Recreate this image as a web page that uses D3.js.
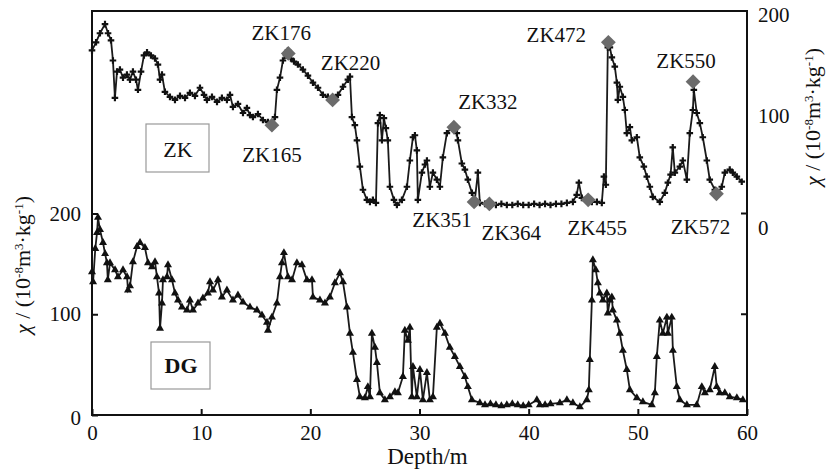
<!DOCTYPE html>
<html>
<head>
<meta charset="utf-8">
<script src="https://d3js.org/d3.v7.min.js"></script>
<style>
  body { margin: 0; background: #fff; }
  .line { fill: none; stroke: #1a1a1a; stroke-width: 1.8px; }
  .frame { fill: none; stroke: #111; stroke-width: 2px; }
</style>
</head>
<body>
<script>
// ZK core (top, right axis)
var zkDepth = [0, 0.37, 0.73, 1.19, 1.47, 1.74, 1.92, 2.1, 2.29, 2.56, 2.84, 3.2, 3.48, 3.75, 4.03, 4.21, 4.49, 4.76, 5.04, 5.4,
  5.77, 6.04, 6.23, 6.41, 6.68, 7.14, 7.6, 8.06, 8.52, 8.97, 9.43, 9.89, 10.26, 10.53, 10.99, 11.45, 11.9, 12.36, 12.64, 12.91,
  13.37, 13.83, 14.19, 14.47, 14.74, 15.2, 15.66, 16.12, 16.48, 16.76, 16.94, 17.22, 17.49, 17.77, 17.95, 18.22, 18.5, 18.86, 19.32, 19.78,
  20.24, 20.7, 21.15, 21.61, 22.07, 22.53, 22.99, 23.44, 23.63, 23.81, 24.08, 24.27, 24.54, 24.82, 25.18, 25.46, 25.73, 26.01, 26.19, 26.37,
  26.56, 26.74, 26.92, 27.1, 27.29, 27.66, 27.93, 28.39, 28.85, 29.12, 29.4, 29.58, 29.76, 29.85, 30.22, 30.5, 30.68, 30.95, 31.23, 31.59,
  31.87, 32.14, 32.51, 32.97, 33.24, 33.42, 33.52, 33.88, 34.16, 34.43, 34.8, 35.07, 35.35, 35.53, 36.0, 36.45, 37.0, 37.5, 38.0, 38.5,
  39.0, 39.5, 40.0, 40.5, 41.0, 41.5, 42.0, 42.5, 43.0, 43.5, 44.05, 44.4, 44.6, 44.87, 45.33, 45.79, 46.25, 46.7, 46.89, 47.07,
  47.25, 47.44, 47.62, 47.89, 48.08, 48.17, 48.35, 48.63, 48.81, 48.99, 49.27, 49.45, 49.91, 50.18, 50.55, 50.82, 51.1, 51.37, 52.01, 52.47,
  52.75, 53.0, 53.2, 53.39, 53.85, 54.12, 54.49, 54.76, 55.04, 55.13, 55.4, 55.68, 55.95, 56.32, 56.59, 57.05, 57.33, 57.69, 57.97, 58.42,
  58.7, 59.07, 59.52];
var zkValue = [161, 169, 178, 187, 178, 171, 151, 114, 140, 142, 134, 137, 132, 140, 132, 122, 140, 156, 159, 156,
  153, 147, 132, 137, 120, 115, 112, 116, 114, 119, 116, 124, 117, 112, 115, 110, 114, 112, 117, 105,
  108, 99, 104, 97, 95, 98, 92, 90, 87, 95, 122, 134, 151, 156, 161, 153, 150, 147, 142, 136,
  129, 124, 117, 115, 112, 117, 125, 132, 135, 95, 87, 72, 46, 23, 13, 11, 13, 10, 89, 97,
  72, 94, 84, 72, 26, 13, 8, 13, 26, 52, 75, 77, 62, 13, 40, 48, 52, 26, 40, 33,
  26, 55, 79, 85, 82, 79, 72, 49, 43, 33, 20, 13, 40, 10, 9, 8, 8, 9, 8, 8,
  9, 8, 8, 9, 8, 9, 8, 9, 9, 10, 11, 18, 30, 15, 13, 11, 11, 10, 36, 28,
  164, 164, 154, 145, 129, 112, 125, 115, 102, 79, 85, 72, 75, 55, 46, 36, 26, 16, 11, 20,
  30, 38, 65, 40, 46, 52, 33, 79, 102, 122, 99, 89, 75, 52, 33, 23, 20, 26, 40, 43,
  40, 36, 31];

// DG core (bottom, left axis)
var dgDepth = [0, 0.1, 0.3, 0.46, 0.55, 0.73, 1.01, 1.2, 1.37, 1.45, 1.65, 2.11, 2.38, 2.84, 3.21, 3.3, 3.48, 3.75, 4.12, 4.4,
  4.85, 5.13, 5.49, 5.77, 5.95, 6.14, 6.23, 6.41, 6.5, 6.87, 6.96, 7.33, 7.6, 7.88, 8.24, 8.7, 8.97, 9.25, 9.71, 10.16,
  10.62, 10.81, 11.08, 11.54, 11.9, 12.36, 12.91, 13.37, 13.83, 14.47, 15.11, 15.57, 16.03, 16.12, 16.48, 16.94, 17.22, 17.4, 17.58, 17.95,
  18.32, 18.77, 19.23, 19.69, 20.15, 20.24, 20.88, 21.34, 21.79, 22.25, 22.71, 22.99, 23.35, 23.63, 23.9, 24.27, 24.54, 25.0, 25.27, 25.46,
  25.64, 25.92, 26.1, 26.37, 26.83, 27.29, 27.75, 28.02, 28.48, 28.66, 28.94, 29.12, 29.3, 29.4, 29.76, 30.04, 30.31, 30.68, 30.95, 31.23,
  31.59, 31.87, 32.33, 32.78, 33.24, 33.7, 34.16, 34.43, 34.8, 35.53, 36.0, 36.5, 37.0, 37.5, 38.0, 38.5, 39.0, 39.5, 40.0, 40.75,
  41.03, 41.5, 42.0, 42.86, 43.5, 44.05, 44.69, 45.33, 45.51, 45.6, 45.79, 45.88, 46.15, 46.34, 46.52, 46.8, 47.16, 47.25, 47.44, 47.62,
  47.71, 48.08, 48.35, 48.63, 48.99, 49.27, 49.91, 50.46, 51.28, 51.56, 51.74, 52.01, 52.29, 52.66, 52.75, 53.11, 53.21, 53.57, 53.85, 54.49,
  55.4, 55.86, 56.14, 56.59, 57.05, 57.23, 57.51, 57.97, 58.42, 59.07, 59.62];
var dgValue = [142, 132, 165, 181, 196, 184, 171, 160, 151, 134, 151, 144, 137, 144, 137, 124, 128, 152, 167, 171,
  166, 151, 147, 152, 137, 121, 86, 111, 134, 137, 149, 134, 121, 114, 107, 104, 114, 104, 111, 116,
  121, 132, 124, 134, 117, 124, 114, 119, 112, 107, 104, 99, 92, 84, 97, 111, 137, 151, 161, 137,
  134, 151, 149, 134, 134, 117, 114, 111, 117, 131, 141, 132, 107, 81, 62, 35, 18, 17, 28, 18,
  81, 67, 52, 22, 15, 18, 23, 22, 38, 84, 74, 87, 18, 48, 18, 45, 15, 42, 15, 18,
  87, 91, 81, 67, 58, 48, 38, 28, 15, 12, 10, 11, 10, 9, 10, 11, 10, 9, 10, 15,
  10, 10, 11, 12, 15, 12, 8, 15, 25, 55, 114, 154, 144, 131, 121, 114, 121, 101, 114, 117,
  104, 94, 81, 64, 45, 25, 17, 13, 10, 22, 58, 94, 81, 97, 81, 97, 64, 28, 15, 10,
  10, 28, 22, 25, 48, 28, 22, 22, 18, 17, 15];

// marked samples on ZK
var markNames = ["ZK165", "ZK176", "ZK220", "ZK332", "ZK351", "ZK364", "ZK455", "ZK472", "ZK550", "ZK572"];
var markDepth = [16.48, 17.98, 22.04, 33.15, 35.0, 36.4, 45.45, 47.3, 55.06, 57.2];
var markValue = [87, 158, 112, 85, 11, 9, 13, 169, 130, 19];

var xTicks = [0, 10, 20, 30, 40, 50, 60];
var yTicks = [0, 100, 200];

var serif = "'Liberation Serif', 'Times New Roman', 'DejaVu Serif', serif";

var width = 827, height = 473;
var svg = d3.select("body").append("svg")
    .attr("width", width)
    .attr("height", height)
    .attr("font-family", serif);

var x = d3.scaleLinear().domain([0, 60]).range([92, 747]);
var yL = d3.scaleLinear().domain([0, 200]).range([415, 213.5]);
var yR = d3.scaleLinear().domain([0, 200]).range([213, 11]);

var zk = zkDepth.map(function (d, i) { return { d: d, v: zkValue[i] }; });
var dg = dgDepth.map(function (d, i) { return { d: d, v: dgValue[i] }; });

// frame
svg.append("rect").attr("class", "frame")
    .attr("x", x(0)).attr("y", yR(200))
    .attr("width", x(60) - x(0)).attr("height", yL(0) - yR(200));

// bottom axis (inward ticks)
var xAxis = svg.append("g")
    .attr("transform", "translate(0," + yL(0) + ")")
    .call(d3.axisBottom(x).tickValues(xTicks).tickSize(-6).tickPadding(10));
xAxis.select(".domain").remove();
xAxis.selectAll("line").attr("stroke", "#111").attr("stroke-width", 2);
xAxis.selectAll("text").style("font-size", "21px");

// left axis
var yAxisL = svg.append("g")
    .attr("transform", "translate(" + x(0) + ",0)")
    .call(d3.axisLeft(yL).tickValues(yTicks).tickSize(-6).tickPadding(11));
yAxisL.select(".domain").remove();
yAxisL.selectAll("line").attr("stroke", "#111").attr("stroke-width", 2);
yAxisL.selectAll("text").style("font-size", "21px")
    .attr("dy", function (d) { return d === 0 ? "0.45em" : "0.32em"; });

// right axis
var yAxisR = svg.append("g")
    .attr("transform", "translate(" + x(60) + ",0)")
    .call(d3.axisRight(yR).tickValues(yTicks).tickSize(-6).tickPadding(11));
yAxisR.select(".domain").remove();
yAxisR.selectAll("line").attr("stroke", "#111").attr("stroke-width", 2)
    .style("opacity", function (d) { return d === 0 ? 1 : 0; });
yAxisR.selectAll("text").style("font-size", "21px")
    .attr("dy", function (d) { return d === 0 ? "1.0em" : "0.5em"; });

// extra inward tick on right for 100 of the lower scale
svg.append("line")
    .attr("x1", x(60) - 6).attr("x2", x(60))
    .attr("y1", yL(100)).attr("y2", yL(100))
    .attr("stroke", "#111").attr("stroke-width", 2);

// axis titles
function unitLabel(g) {
  var t = g.append("text").style("font-size", "22px").attr("text-anchor", "middle");
  t.append("tspan").text("\u03c7").style("font-style", "italic");
  t.append("tspan").text(" / (10");
  t.append("tspan").text("-8").attr("baseline-shift", "super").style("font-size", "13px");
  t.append("tspan").text("m");
  t.append("tspan").text("3").attr("baseline-shift", "super").style("font-size", "13px");
  t.append("tspan").text("\u00b7kg");
  t.append("tspan").text("-1").attr("baseline-shift", "super").style("font-size", "13px");
  t.append("tspan").text(")");
  return t;
}
unitLabel(svg.append("g").attr("transform", "translate(30,265) rotate(-90)"));
unitLabel(svg.append("g").attr("transform", "translate(820,117) rotate(-90)"));

svg.append("text")
    .attr("x", (x(0) + x(60)) / 2 + 8).attr("y", 464)
    .attr("text-anchor", "middle")
    .style("font-size", "23px")
    .text("Depth/m");

// lines
var lineZK = d3.line().x(function (d) { return x(d.d); }).y(function (d) { return yR(d.v); });
var lineDG = d3.line().x(function (d) { return x(d.d); }).y(function (d) { return yL(d.v); });

svg.append("path").datum(zk).attr("class", "line").attr("d", lineZK);
svg.append("path").datum(dg).attr("class", "line").attr("d", lineDG);

// point markers
svg.selectAll(".zkpt").data(zk).enter().append("path")
    .attr("class", "zkpt")
    .attr("transform", function (d) { return "translate(" + x(d.d) + "," + yR(d.v) + ")"; })
    .attr("d", d3.symbol().type(d3.symbolCross).size(24))
    .attr("fill", "#111");

svg.selectAll(".dgpt").data(dg).enter().append("path")
    .attr("class", "dgpt")
    .attr("transform", function (d) { return "translate(" + x(d.d) + "," + yL(d.v) + ")"; })
    .attr("d", d3.symbol().type(d3.symbolTriangle).size(28))
    .attr("fill", "#111");

// marked samples
var marks = markNames.map(function (n, i) { return { n: n, d: markDepth[i], v: markValue[i] }; });
svg.selectAll(".mk").data(marks).enter().append("path")
    .attr("class", "mk")
    .attr("transform", function (d) { return "translate(" + x(d.d) + "," + yR(d.v) + ") rotate(45)"; })
    .attr("d", d3.symbol().type(d3.symbolSquare).size(110))
    .attr("fill", "#6b6b6b");

// label offsets relative to marker (dx, dy to baseline)
var labelOff = {
  ZK165: [0, 37], ZK176: [-7, -13], ZK220: [18, -30], ZK332: [34, -18], ZK351: [-32, 25],
  ZK364: [22, 36], ZK455: [9, 35], ZK472: [-52, 0], ZK550: [-7, -14], ZK572: [-16, 40]
};
svg.selectAll(".mklabel").data(marks).enter().append("text")
    .attr("class", "mklabel")
    .attr("x", function (d) { return x(d.d) + labelOff[d.n][0]; })
    .attr("y", function (d) { return yR(d.v) + labelOff[d.n][1]; })
    .attr("text-anchor", "middle")
    .style("font-size", "21px")
    .text(function (d) { return d.n; });

// legend boxes
svg.append("rect").attr("x", 146).attr("y", 124).attr("width", 63).attr("height", 48)
    .attr("fill", "#fff").attr("stroke", "#999").attr("stroke-width", 1.2);
svg.append("text").attr("x", 178).attr("y", 157).attr("text-anchor", "middle")
    .style("font-size", "22px").text("ZK");
svg.append("rect").attr("x", 151).attr("y", 342).attr("width", 59).attr("height", 47)
    .attr("fill", "#fff").attr("stroke", "#999").attr("stroke-width", 1.2);
svg.append("text").attr("x", 181).attr("y", 373).attr("text-anchor", "middle")
    .style("font-size", "22px").style("font-weight", "bold").text("DG");

// make every text serif and dark
svg.selectAll("text").style("font-family", serif).attr("fill", "#111");
</script>
</body>
</html>
